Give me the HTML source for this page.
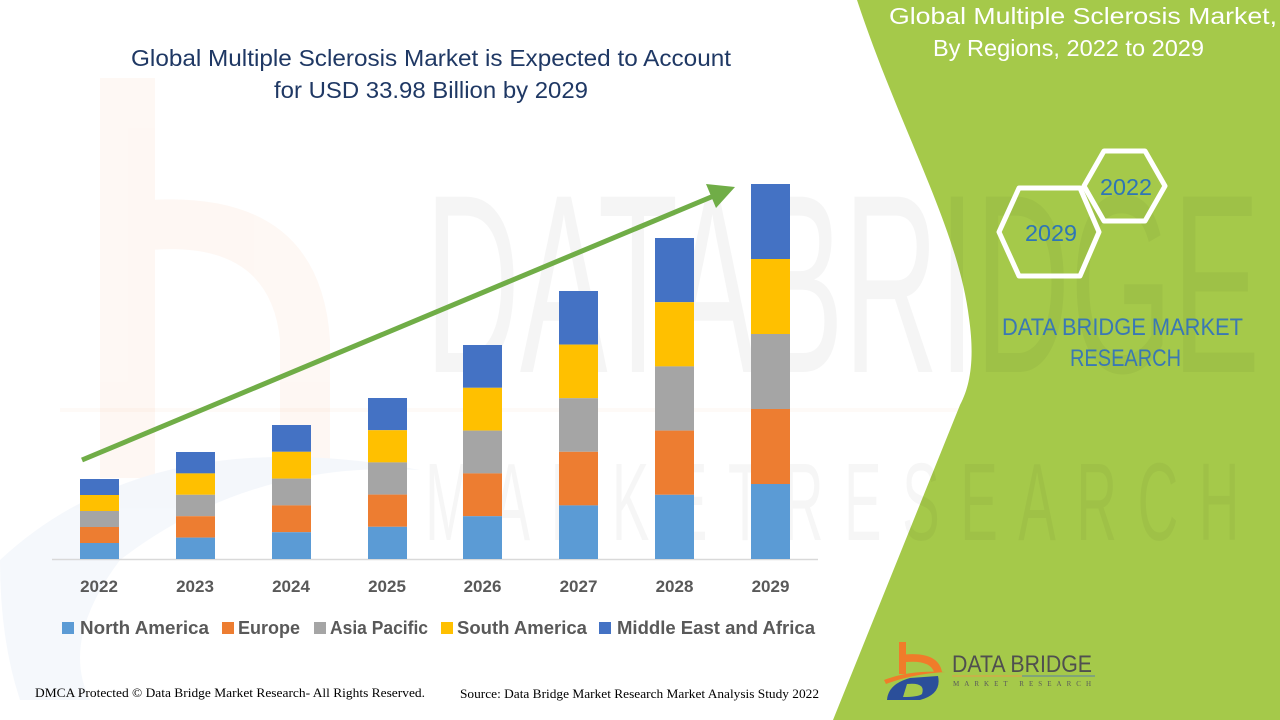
<!DOCTYPE html>
<html>
<head>
<meta charset="utf-8">
<style>
  html, body { margin:0; padding:0; background:#ffffff; }
  body { width:1280px; height:720px; overflow:hidden; }
  svg { display:block; }
</style>
</head>
<body>
<svg width="1280" height="720" viewBox="0 0 1280 720" xmlns="http://www.w3.org/2000/svg">
  <rect x="0" y="0" width="1280" height="720" fill="#ffffff"/>

  <!-- faint watermark (left b) -->
  <g opacity="0.05">
    <rect x="100" y="78" width="55" height="400" fill="#ed7d31"/>
    <path d="M150 200 Q320 190 330 340 L330 470 L280 470 L280 340 Q270 240 150 250 Z" fill="#ed7d31"/>
    <path d="M0 560 Q150 420 420 470 Q250 460 120 560 Q60 640 90 700 L20 700 Q0 640 0 560 Z" fill="#4472c4"/>
  </g>
  <rect x="60" y="408" width="900" height="4" fill="#ed7d31" opacity="0.04"/>

  <!-- green panel -->
  <path d="M857 0 C 900 130, 958 228, 969 318 C 975 360, 970 386, 960 405 L 833 720 L 1280 720 L 1280 0 Z" fill="#a5c94a"/>

  <!-- faint watermark text -->
  <text x="425" y="372" font-family="Liberation Sans, sans-serif" font-size="255" fill="#000" opacity="0.035" textLength="835" lengthAdjust="spacingAndGlyphs">DATABRIDGE</text>
  <text x="425" y="540" font-family="Liberation Sans, sans-serif" font-size="110" fill="#000" opacity="0.03" textLength="835" lengthAdjust="spacingAndGlyphs" letter-spacing="40">MARKETRESEARCH</text>

  <!-- main title -->
  <text x="431" y="66" text-anchor="middle" font-family="Liberation Sans, sans-serif" font-size="23" fill="#1f3864" textLength="600" lengthAdjust="spacingAndGlyphs">Global Multiple Sclerosis Market is Expected to Account</text>
  <text x="431" y="98" text-anchor="middle" font-family="Liberation Sans, sans-serif" font-size="23" fill="#1f3864" textLength="314" lengthAdjust="spacingAndGlyphs">for USD 33.98 Billion by 2029</text>

  <!-- axis -->
  <line x1="52" y1="559.5" x2="818" y2="559.5" stroke="#d9d9d9" stroke-width="1.5"/>

  <!-- bars -->
  <g>
    <!-- 2022 -->
    <rect x="80" y="479" width="39" height="16" fill="#4472c4"/>
    <rect x="80" y="495" width="39" height="16" fill="#ffc000"/>
    <rect x="80" y="511" width="39" height="16" fill="#a5a5a5"/>
    <rect x="80" y="527" width="39" height="16" fill="#ed7d31"/>
    <rect x="80" y="543" width="39" height="16" fill="#5b9bd5"/>
    <!-- 2023 -->
    <rect x="176" y="452" width="39" height="21.4" fill="#4472c4"/>
    <rect x="176" y="473.4" width="39" height="21.4" fill="#ffc000"/>
    <rect x="176" y="494.8" width="39" height="21.4" fill="#a5a5a5"/>
    <rect x="176" y="516.2" width="39" height="21.4" fill="#ed7d31"/>
    <rect x="176" y="537.6" width="39" height="21.4" fill="#5b9bd5"/>
    <!-- 2024 -->
    <rect x="272" y="425" width="39" height="26.8" fill="#4472c4"/>
    <rect x="272" y="451.8" width="39" height="26.8" fill="#ffc000"/>
    <rect x="272" y="478.6" width="39" height="26.8" fill="#a5a5a5"/>
    <rect x="272" y="505.4" width="39" height="26.8" fill="#ed7d31"/>
    <rect x="272" y="532.2" width="39" height="26.8" fill="#5b9bd5"/>
    <!-- 2025 -->
    <rect x="368" y="398" width="39" height="32.2" fill="#4472c4"/>
    <rect x="368" y="430.2" width="39" height="32.2" fill="#ffc000"/>
    <rect x="368" y="462.4" width="39" height="32.2" fill="#a5a5a5"/>
    <rect x="368" y="494.6" width="39" height="32.2" fill="#ed7d31"/>
    <rect x="368" y="526.8" width="39" height="32.2" fill="#5b9bd5"/>
    <!-- 2026 -->
    <rect x="463" y="345" width="39" height="42.8" fill="#4472c4"/>
    <rect x="463" y="387.8" width="39" height="42.8" fill="#ffc000"/>
    <rect x="463" y="430.6" width="39" height="42.8" fill="#a5a5a5"/>
    <rect x="463" y="473.4" width="39" height="42.8" fill="#ed7d31"/>
    <rect x="463" y="516.2" width="39" height="42.8" fill="#5b9bd5"/>
    <!-- 2027 -->
    <rect x="559" y="291" width="39" height="53.6" fill="#4472c4"/>
    <rect x="559" y="344.6" width="39" height="53.6" fill="#ffc000"/>
    <rect x="559" y="398.2" width="39" height="53.6" fill="#a5a5a5"/>
    <rect x="559" y="451.8" width="39" height="53.6" fill="#ed7d31"/>
    <rect x="559" y="505.4" width="39" height="53.6" fill="#5b9bd5"/>
    <!-- 2028 -->
    <rect x="655" y="238" width="39" height="64.2" fill="#4472c4"/>
    <rect x="655" y="302.2" width="39" height="64.2" fill="#ffc000"/>
    <rect x="655" y="366.4" width="39" height="64.2" fill="#a5a5a5"/>
    <rect x="655" y="430.6" width="39" height="64.2" fill="#ed7d31"/>
    <rect x="655" y="494.8" width="39" height="64.2" fill="#5b9bd5"/>
    <!-- 2029 -->
    <rect x="751" y="184" width="39" height="75" fill="#4472c4"/>
    <rect x="751" y="259" width="39" height="75" fill="#ffc000"/>
    <rect x="751" y="334" width="39" height="75" fill="#a5a5a5"/>
    <rect x="751" y="409" width="39" height="75" fill="#ed7d31"/>
    <rect x="751" y="484" width="39" height="75" fill="#5b9bd5"/>
  </g>

  <!-- arrow -->
  <line x1="82" y1="460" x2="716" y2="195" stroke="#70ad47" stroke-width="5"/>
  <polygon points="735,187 706,184 716,208" fill="#70ad47"/>

  <!-- year labels -->
  <g font-family="Liberation Sans, sans-serif" font-size="17" font-weight="bold" fill="#595959" text-anchor="middle">
    <text x="99" y="592">2022</text>
    <text x="195" y="592">2023</text>
    <text x="291" y="592">2024</text>
    <text x="387" y="592">2025</text>
    <text x="482.5" y="592">2026</text>
    <text x="578.5" y="592">2027</text>
    <text x="674.5" y="592">2028</text>
    <text x="770.5" y="592">2029</text>
  </g>

  <!-- legend -->
  <rect x="62" y="622" width="12" height="12" fill="#5b9bd5"/>
  <rect x="222" y="622" width="12" height="12" fill="#ed7d31"/>
  <rect x="314" y="622" width="12" height="12" fill="#a5a5a5"/>
  <rect x="441" y="622" width="12" height="12" fill="#ffc000"/>
  <rect x="599" y="622" width="12" height="12" fill="#4472c4"/>
  <g font-family="Liberation Sans, sans-serif" font-size="18" font-weight="bold" fill="#595959">
    <text x="80" y="634" textLength="129" lengthAdjust="spacingAndGlyphs">North America</text>
    <text x="238" y="634" textLength="62" lengthAdjust="spacingAndGlyphs">Europe</text>
    <text x="330" y="634" textLength="98" lengthAdjust="spacingAndGlyphs">Asia Pacific</text>
    <text x="457" y="634" textLength="130" lengthAdjust="spacingAndGlyphs">South America</text>
    <text x="617" y="634" textLength="198" lengthAdjust="spacingAndGlyphs">Middle East and Africa</text>
  </g>

  <!-- footer -->
  <text x="35" y="697" font-family="Liberation Serif, serif" font-size="13" fill="#000" textLength="390" lengthAdjust="spacingAndGlyphs">DMCA Protected © Data Bridge Market Research- All Rights Reserved.</text>
  <text x="460" y="698" font-family="Liberation Serif, serif" font-size="13" fill="#000" textLength="359" lengthAdjust="spacingAndGlyphs">Source: Data Bridge Market Research Market Analysis Study 2022</text>

  <!-- green panel title -->
  <text x="1083" y="24" text-anchor="middle" font-family="Liberation Sans, sans-serif" font-size="23" fill="#ffffff" textLength="388" lengthAdjust="spacingAndGlyphs">Global Multiple Sclerosis Market,</text>
  <text x="1068.5" y="56" text-anchor="middle" font-family="Liberation Sans, sans-serif" font-size="23" fill="#ffffff" textLength="271" lengthAdjust="spacingAndGlyphs">By Regions, 2022 to 2029</text>

  <!-- hexagons -->
  <polygon points="1084,186 1104,151 1145,151 1165,186 1145,221 1104,221" fill="none" stroke="#ffffff" stroke-width="5" stroke-linejoin="round"/>
  <polygon points="999,232 1019,188 1080,188 1099,232 1080,276 1019,276" fill="none" stroke="#ffffff" stroke-width="5" stroke-linejoin="round"/>
  <text x="1126" y="195" text-anchor="middle" font-family="Liberation Sans, sans-serif" font-size="23" fill="#2e75b6" textLength="52" lengthAdjust="spacingAndGlyphs">2022</text>
  <text x="1051" y="241" text-anchor="middle" font-family="Liberation Sans, sans-serif" font-size="23" fill="#2e75b6" textLength="52" lengthAdjust="spacingAndGlyphs">2029</text>

  <text x="1122.5" y="335" text-anchor="middle" font-family="Liberation Sans, sans-serif" font-size="24" fill="#3a78b4" textLength="241" lengthAdjust="spacingAndGlyphs">DATA BRIDGE MARKET</text>
  <text x="1125.5" y="366" text-anchor="middle" font-family="Liberation Sans, sans-serif" font-size="24" fill="#3a78b4" textLength="111" lengthAdjust="spacingAndGlyphs">RESEARCH</text>

  <!-- logo -->
  <g>
    <rect x="899" y="642" width="7" height="32" fill="#f07c2a"/>
    <path d="M899 655 Q938 650 942 672 L934 672 Q930 660 906 662 Z" fill="#f07c2a"/>
    <path d="M884 680 Q910 670 945 672 Q912 674 886 684 Z" fill="#f07c2a"/>
    <path d="M887 700 Q888 684 910 678 L938 676 Q942 694 920 700 Z" fill="#2b4f9a"/>
    <path d="M903 697 L907 684 Q926 682 922 694 Q918 697 903 697 Z" fill="#a5c94a"/>
    <text x="952" y="672" font-family="Liberation Sans, sans-serif" font-size="24" fill="#4f4f4f" textLength="140" lengthAdjust="spacingAndGlyphs">DATA BRIDGE</text>
    <line x1="952" y1="676" x2="1022" y2="676" stroke="#e89a4a" stroke-width="1"/>
    <line x1="1022" y1="676" x2="1095" y2="676" stroke="#5a7fa8" stroke-width="1"/>
    <text x="953" y="686" font-family="Liberation Serif, serif" font-size="7" fill="#5a5a5a" textLength="138" lengthAdjust="spacing">MARKET  RESEARCH</text>
  </g>
</svg>
</body>
</html>
